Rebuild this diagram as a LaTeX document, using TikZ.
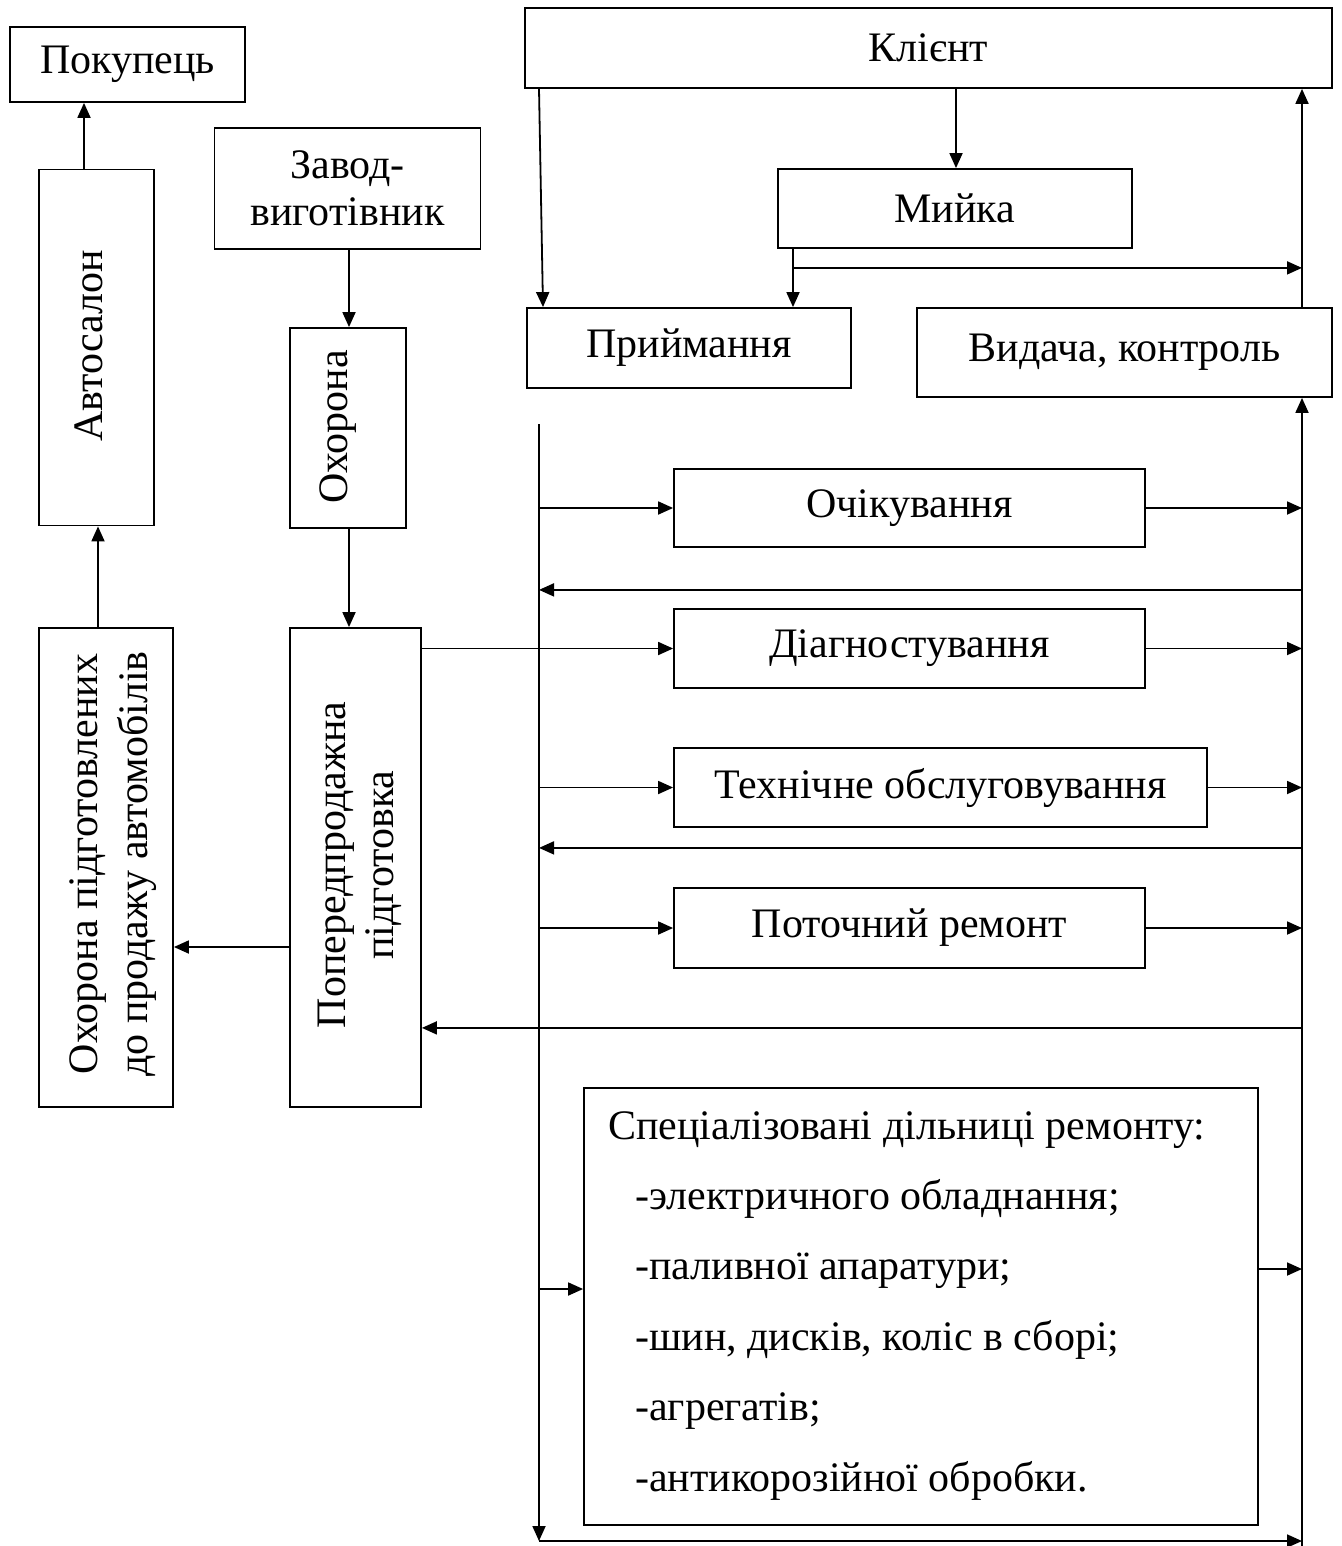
\documentclass[tikz,border=0pt]{standalone}
\usepackage{fontspec}
\setmainfont{Liberation Serif}
\usetikzlibrary{arrows.meta,calc}
\begin{document}
\begin{tikzpicture}[x=1pt,y=-1pt,
  box/.style={draw,line width=1.8pt,inner sep=0pt,align=center},
  txt/.style={inner sep=0pt,align=center},
  arr/.style={line width=1.8pt,-{Triangle[length=15pt,width=13pt]}},
  ln/.style={line width=1.8pt},
  every node/.style={font=\fontsize{42}{47}\selectfont}]
\useasboundingbox (0,0) rectangle (1341,1546);
% left part
\node[box,minimum width=235pt,minimum height=75pt] (pok) at (127.5,64.5) {Покупець};
\node[box,minimum width=115pt,minimum height=356pt] (avto) at (96.5,347.5) {};
\node[txt,rotate=90] (avtoT) at (88.5,346) {Автосалон};
\node[box,minimum width=266pt,minimum height=121pt] (zavod) at (347.5,188.5) {Завод-\\виготівник};
\node[box,minimum width=116pt,minimum height=200pt] (ohor) at (348,428) {};
\node[txt,rotate=90] (ohorT) at (338,427) {Охорона};
\node[box,minimum width=134pt,minimum height=479pt] (ohpid) at (106,867.5) {};
\node[txt,rotate=90,font=\fontsize{42}{50}\selectfont] (ohpidT) at (113,864) {Охорона підготовлених\\до продажу автомобілів};
\node[box,minimum width=131pt,minimum height=479pt] (poper) at (355.5,867.5) {};
\node[txt,rotate=90,font=\fontsize{42}{48}\selectfont] (poperT) at (360,865) {Попередпродажна\\підготовка};
% right part
\node[box,minimum width=807pt,minimum height=80pt] (klient) at (928.5,48) {Клієнт};
\node[box,minimum width=354pt,minimum height=79pt] (myika) at (955,208.5) {Мийка};
\node[box,minimum width=324pt,minimum height=80pt] (pryim) at (689,348) {Приймання};
\node[box,minimum width=415pt,minimum height=89pt] (vyd) at (1124.5,352.5) {Видача, контроль};
\node[box,minimum width=471pt,minimum height=78pt] (ochik) at (909.5,508) {Очікування};
\node[box,minimum width=471pt,minimum height=79pt] (diag) at (909.5,648.5) {Діагностування};
\node[box,minimum width=533pt,minimum height=79pt] (tekh) at (940.5,787.5) {Технічне обслуговування};
\node[box,minimum width=471pt,minimum height=80pt] (potoch) at (909.5,928) {Поточний ремонт};
\node[box,minimum width=674pt,minimum height=437pt] (spec) at (921,1306.5) {};
\node[txt,anchor=base west] (s0) at (608,1139) {Спеціалізовані дільниці ремонту:};
\node[txt,anchor=base west] (s1) at (635,1209) {-электричного обладнання;};
\node[txt,anchor=base west] (s2) at (635,1279) {-паливної апаратури;};
\node[txt,anchor=base west] (s3) at (635,1350) {-шин, дисків, коліс в сборі;};
\node[txt,anchor=base west] (s4) at (635,1420) {-агрегатів;};
\node[txt,anchor=base west] (s5) at (635,1491) {-антикорозійної обробки.};
% bus coordinates
\coordinate (R) at ($(vyd.north)+(177.5,0)$);
\coordinate (L) at (539,424);
\coordinate (B) at (539,1541);
% left connectors
\draw[arr] ($(avto.north)+(-12.5,0)$) -- ($(pok.south)+(-43.5,0)$);
\draw[arr] ($(ohpid.north)+(-8,0)$) -- ($(avto.south)+(1.5,0)$);
\draw[arr] ($(zavod.south)+(1.5,0)$) -- ($(ohor.north)+(1,0)$);
\draw[arr] ($(ohor.south)+(1,0)$) -- ($(poper.north)+(-6.5,0)$);
\draw[arr] ($(poper.west)+(0,79.5)$) -- ($(ohpid.east)+(0,79.5)$);
% top right connectors
\draw[arr] ($(klient.south)+(-389.5,0)$) -- ($(pryim.north)+(-146,0)$);
\draw[arr] ($(klient.south)+(27.5,0)$) -- ($(myika.north)+(1,0)$);
\draw[arr] ($(myika.south)+(-162,0)$) -- ($(pryim.north)+(104,0)$);
\coordinate (m1) at ($(myika.south)+(-162,19)$);
\draw[arr] (m1) -- (m1 -| R);
\draw[arr] (R) -- (R |- klient.south);
% buses
\draw[arr] (L) -- (B);
\draw[arr] (B) -- (B -| R);
\draw[arr] ($(B -| R)+(0,5)$) -- (R |- vyd.south);
% rows
\draw[arr] (ochik.west -| L) -- (ochik.west);
\draw[arr] (ochik.east) -- (ochik.east -| R);
\coordinate (b1) at ($(ochik.south -| R)+(0,42)$);
\draw[arr] (b1) -- (b1 -| L);
\draw[arr] (diag.west -| poper.east) -- (diag.west);
\draw[arr] (diag.east) -- (diag.east -| R);
\draw[arr] (tekh.west -| L) -- (tekh.west);
\draw[arr] (tekh.east) -- (tekh.east -| R);
\coordinate (b2) at ($(tekh.south -| R)+(0,20)$);
\draw[arr] (b2) -- (b2 -| L);
\draw[arr] (potoch.west -| L) -- (potoch.west);
\draw[arr] (potoch.east) -- (potoch.east -| R);
\coordinate (b3) at ($(potoch.south -| R)+(0,59)$);
\draw[arr] (b3) -- (b3 -| poper.east);
\coordinate (sp1) at ($(spec.west)+(0,-17.5)$);
\draw[arr] (sp1 -| L) -- (sp1);
\coordinate (sp2) at ($(spec.east)+(0,-37.5)$);
\draw[arr] (sp2) -- (sp2 -| R);
\end{tikzpicture}
\end{document}
